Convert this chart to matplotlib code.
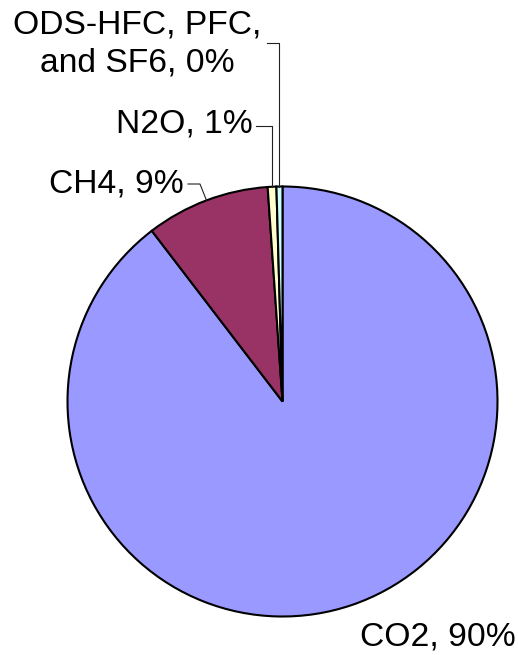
import numpy as np
import matplotlib

matplotlib.use("Agg")
import matplotlib.pyplot as plt

# data
labels = ["CO2", "CH4", "N2O", "ODS-HFC, PFC,\nand SF6"]
shares = [89.6, 9.3, 0.65, 0.45]
pct_text = ["90%", "9%", "1%", "0%"]
colors = ["#9999FF", "#993366", "#FFFFCC", "#CCFFFF"]

W, H = 518, 655
plt.rcParams["font.family"] = ["Liberation Sans", "DejaVu Sans"]

fig = plt.figure(figsize=(W / 100, H / 100), dpi=100)
ax = fig.add_axes([0, 0, 1, 1])

cx, cy, r = 282.5, H - 401.5, 215
wedges, _ = ax.pie(shares, colors=colors, startangle=90, counterclock=False,
                   center=(cx, cy), radius=r,
                   wedgeprops=dict(edgecolor="black", linewidth=1.5))
ax.set_xlim(0, W)
ax.set_ylim(0, H)
ax.set_aspect("equal")
ax.axis("off")


def edge_point(w):
    mid = np.deg2rad((w.theta1 + w.theta2) / 2)
    return cx + r * np.cos(mid), cy + r * np.sin(mid)


fs = 24.2
lc, lw = "#222222", 0.8

# CO2 label (no leader)
ax.text(437.5, H - 637, f"{labels[0]}, {pct_text[0]}", fontsize=fs,
        ha="center", va="center")

# CH4
ex, ey = edge_point(wedges[1])
ly = H - 184
ax.text(184, ly, f"{labels[1]}, {pct_text[1]}", fontsize=fs, ha="right", va="center")
ax.plot([188, 200, ex], [ly, ly, ey], color=lc, lw=lw)

# N2O
ex, ey = edge_point(wedges[2])
ly = H - 126
ax.text(253, ly + 2, f"{labels[2]}, {pct_text[2]}", fontsize=fs, ha="right", va="center")
ax.plot([256, ex, ex], [ly, ly, ey], color=lc, lw=lw)

# ODS
ex, ey = edge_point(wedges[3])
ly = H - 43
ax.text(137.5, ly - 1, f"{labels[3]}, {pct_text[3]}", fontsize=fs, ha="center",
        va="center", linespacing=1.26, multialignment="center")
ax.plot([267, ex, ex], [ly, ly, ey], color=lc, lw=lw)

fig.savefig("out.png", dpi=100)
